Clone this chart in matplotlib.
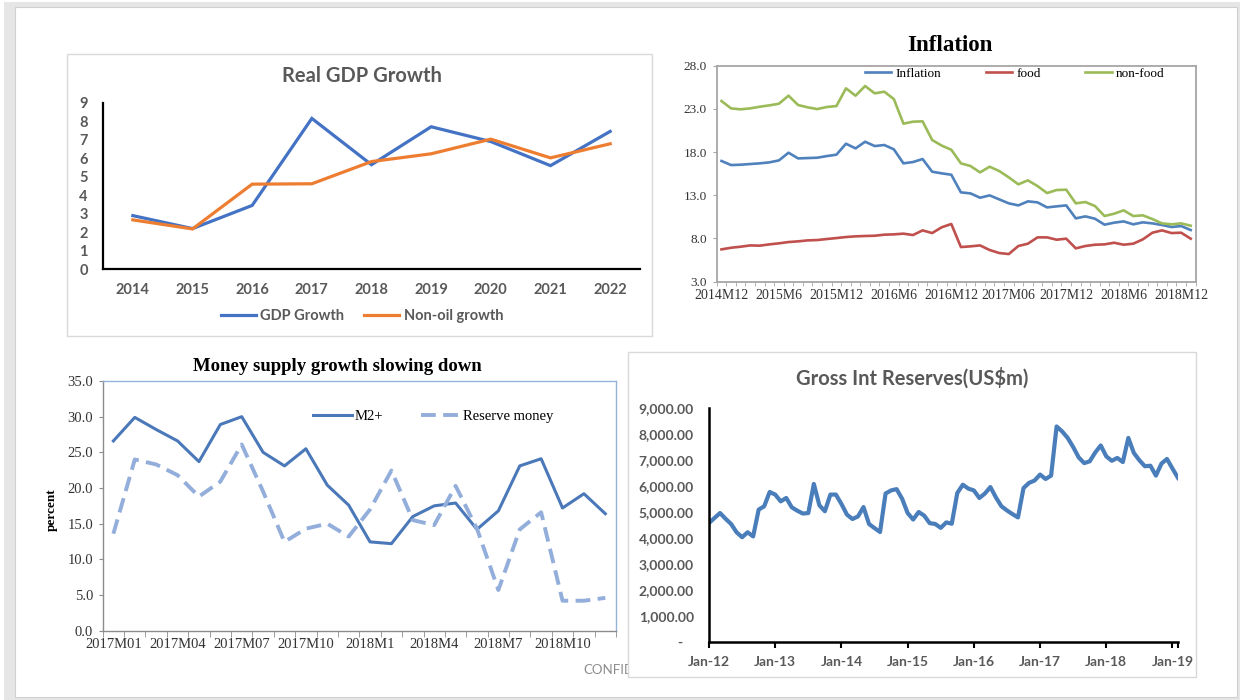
import numpy as np
import matplotlib
matplotlib.use("Agg")
import matplotlib.pyplot as plt
import matplotlib.ticker as mticker
from matplotlib.patches import Rectangle

W, H = 1241, 700

# ---- data ----
gdp_years = ['2014', '2015', '2016', '2017', '2018', '2019', '2020', '2021', '2022']
gdp_growth = [2.9, 2.2, 3.45, 8.15, 5.65, 7.7, 6.9, 5.6, 7.45]
nonoil_growth = [2.67, 2.18, 4.6, 4.62, 5.82, 6.24, 7.03, 6.02, 6.78]

infl_labels = ['2014M12', '2015M6', '2015M12', '2016M6', '2016M12',
               '2017M06', '2017M12', '2018M6', '2018M12']
inflation = [16.97, 16.5, 16.54, 16.62, 16.7, 16.81, 17.04, 17.93, 17.27, 17.31,
             17.35, 17.54, 17.7, 18.97, 18.43, 19.2, 18.7, 18.82, 18.32, 16.7,
             16.85, 17.2, 15.73, 15.54, 15.38, 13.34, 13.22, 12.72, 12.99, 12.53,
             12.07, 11.83, 12.3, 12.18, 11.6, 11.72, 11.83, 10.33, 10.56, 10.29,
             9.6, 9.83, 9.98, 9.64, 9.87, 9.75, 9.56, 9.33, 9.44, 8.98]
food = [6.74, 6.93, 7.05, 7.2, 7.17, 7.32, 7.44, 7.59, 7.67, 7.78,
        7.82, 7.94, 8.05, 8.17, 8.25, 8.29, 8.32, 8.44, 8.48, 8.56,
        8.4, 8.94, 8.63, 9.3, 9.68, 7.01, 7.09, 7.2, 6.67, 6.32,
        6.2, 7.13, 7.4, 8.13, 8.13, 7.86, 7.98, 6.86, 7.13, 7.28,
        7.32, 7.51, 7.28, 7.4, 7.9, 8.67, 8.94, 8.63, 8.67, 7.98]
nonfood = [23.91, 23.06, 22.95, 23.06, 23.25, 23.41, 23.6, 24.53, 23.45, 23.18,
           22.98, 23.22, 23.33, 25.38, 24.53, 25.65, 24.8, 24.99, 24.14, 21.29,
           21.52, 21.56, 19.4, 18.75, 18.27, 16.7, 16.39, 15.65, 16.31, 15.81,
           15.08, 14.27, 14.73, 14.07, 13.26, 13.61, 13.65, 12.07, 12.22, 11.76,
           10.6, 10.87, 11.26, 10.6, 10.68, 10.25, 9.75, 9.64, 9.75, 9.48]

money_labels = ['2017M01', '2017M04', '2017M07', '2017M10',
                '2018M1', '2018M4', '2018M7', '2018M10']
m2_plus = [26.6, 29.9, 28.2, 26.6, 23.7, 28.9, 30.0, 25.0, 23.1, 25.5, 20.4, 17.6,
           12.45, 12.2, 16.0, 17.5, 17.9, 14.2, 16.8, 23.1, 24.1, 17.2, 19.2, 16.4]
reserve_money = [13.6, 24.0, 23.3, 21.8, 18.8, 20.9, 26.1, 19.5, 12.45, 14.3, 15.0, 13.2,
                 17.0, 22.45, 15.5, 14.8, 20.3, 14.3, 5.7, 14.2, 16.6, 4.2, 4.2, 4.6]

reserve_labels = ['Jan-12', 'Jan-13', 'Jan-14', 'Jan-15', 'Jan-16', 'Jan-17', 'Jan-18', 'Jan-19']
gross_reserves = [4577, 4770, 4960, 4740, 4540, 4220, 4030, 4220, 4060, 5090,
                  5220, 5770, 5670, 5410, 5540, 5180, 5050, 4940, 4960, 6080,
                  5260, 5030, 5670, 5670, 5310, 4900, 4730, 4830, 5190, 4540,
                  4380, 4230, 5710, 5830, 5880, 5510, 4960, 4710, 5000, 4860,
                  4570, 4540, 4390, 4600, 4550, 5730, 6050, 5900, 5830, 5540,
                  5710, 5960, 5560, 5220, 5060, 4920, 4790, 5920, 6120, 6210,
                  6440, 6270, 6400, 8290, 8100, 7850, 7500, 7100, 6880, 6950,
                  7290, 7560, 7140, 6970, 7080, 6920, 7850, 7270, 6990, 6760,
                  6780, 6400, 6860, 7040, 6670, 6310]

SANS = 'Lato'
SERIF = 'Liberation Serif'
GREY_TXT = '#595959'

fig = plt.figure(figsize=(W / 100, H / 100), dpi=100)


def add_axes_px(left, top, right, bottom):
    ax = fig.add_axes([left / W, 1 - bottom / H, (right - left) / W, (bottom - top) / H])
    ax.set_facecolor('none')
    return ax


def frame_px(left, top, right, bottom, edge, face='white', lw=1.0, z=-1):
    fig.add_artist(Rectangle((left / W, 1 - bottom / H), (right - left) / W, (bottom - top) / H,
                             transform=fig.transFigure, facecolor=face, edgecolor=edge,
                             linewidth=lw, zorder=z))


def fig_text(x, y, s, **kw):
    fig.text(x / W, 1 - y / H, s, ha=kw.pop('ha', 'center'), va=kw.pop('va', 'center'), **kw)


# screenshot border
frame_px(4, 2, 1240, 700, edge='none', face='#e6e6e6', z=-3)
frame_px(15, 7, 1237, 697, edge='#d0d0d0', face='white', lw=0.8, z=-2)

# ---------- Real GDP Growth ----------
frame_px(67, 53.5, 652, 336, edge='#d9d9d9')
ax1 = add_axes_px(103, 102.7, 640, 269.3)
xg = np.arange(len(gdp_years))
ax1.plot(xg, gdp_growth, color='#4472C4', lw=2.3, label='GDP Growth', solid_joinstyle='miter')
ax1.plot(xg, nonoil_growth, color='#ED7D31', lw=2.3, label='Non-oil growth', solid_joinstyle='miter')
ax1.set_xlim(-0.5, len(gdp_years) - 0.5)
ax1.set_ylim(0, 9)
ax1.set_yticks(range(10))
ax1.set_xticks(xg, gdp_years)
for s in ['top', 'right']:
    ax1.spines[s].set_visible(False)
for s in ['left', 'bottom']:
    ax1.spines[s].set_color('black')
    ax1.spines[s].set_linewidth(1.6)
ax1.tick_params(axis='y', length=0, pad=11)
ax1.tick_params(axis='x', length=0, pad=10)
for lab in ax1.get_xticklabels() + ax1.get_yticklabels():
    lab.set_fontfamily(SANS)
    lab.set_fontweight('bold')
    lab.set_fontsize(10.5)
    lab.set_color(GREY_TXT)
fig_text(362, 76, 'Real GDP Growth', fontsize=14.5, fontweight='bold', color=GREY_TXT, family=SANS)
ax1.legend(loc='center', bbox_to_anchor=(362 / W, 1 - 316 / H), bbox_transform=fig.transFigure,
           ncol=2, frameon=False, handlelength=2.4, handletextpad=0.3, columnspacing=1.4,
           prop={'family': SANS, 'weight': 'bold', 'size': 10.5}, labelcolor=GREY_TXT)

# ---------- Inflation ----------
ax2 = add_axes_px(716.7, 65.7, 1195.5, 281.7)
xi = np.arange(len(inflation))
ax2.plot(xi, inflation, color='#4F81BD', lw=1.9, label='Inflation')
ax2.plot(xi, food, color='#C0504D', lw=1.9, label='food')
ax2.plot(xi, nonfood, color='#9BBB59', lw=1.9, label='non-food')
ax2.set_xlim(-0.5, len(inflation) - 0.5)
ax2.set_ylim(3, 28)
ax2.set_yticks(np.arange(3, 29, 5))
ax2.yaxis.set_major_formatter(mticker.FormatStrFormatter('%.1f'))
ax2.set_xticks(np.arange(0, len(inflation), 6), infl_labels)
ax2.set_xticks(np.arange(-0.5, len(inflation), 1), minor=True)
for s in ax2.spines.values():
    s.set_color('#a6a6a6')
    s.set_linewidth(1.3)
ax2.tick_params(axis='x', which='major', length=0, pad=5)
ax2.tick_params(axis='x', which='minor', length=3, color='#a6a6a6', direction='out')
ax2.tick_params(axis='y', length=3, color='#a6a6a6', pad=4)
for lab in ax2.get_xticklabels():
    lab.set_fontfamily(SERIF)
    lab.set_fontsize(10)
    lab.set_color('#333333')
for lab in ax2.get_yticklabels():
    lab.set_fontfamily(SERIF)
    lab.set_fontsize(9.5)
    lab.set_color('#333333')
fig_text(950, 45.7, 'Inflation', fontsize=16.5, fontweight='bold', family=SERIF)
ax2.legend(loc='center', bbox_to_anchor=(1014.5 / W, 1 - 74 / H), bbox_transform=fig.transFigure,
           ncol=3, frameon=False, handlelength=2.0, handletextpad=0.3, columnspacing=3.4,
           prop={'family': SERIF, 'size': 9.5})

# ---------- Money supply ----------
ax3 = add_axes_px(102.7, 381, 616, 630.7)
xm = np.arange(len(m2_plus))
ax3.plot(xm, m2_plus, color='#4A78B8', lw=2.2, label='M2+')
ax3.plot(xm, reserve_money, color='#93AEDB', lw=2.8, dashes=(3.8, 1.9), label='Reserve money')
ax3.set_xlim(-0.5, len(m2_plus) - 0.5)
ax3.set_ylim(0, 35)
ax3.set_yticks(np.arange(0, 36, 5))
ax3.yaxis.set_major_formatter(mticker.FormatStrFormatter('%.1f'))
ax3.set_xticks(np.arange(0, len(m2_plus), 3), money_labels)
ax3.set_xticks(np.arange(-0.5, len(m2_plus), 1), minor=True)
for s in ['left', 'bottom']:
    ax3.spines[s].set_color('#8c8c8c')
    ax3.spines[s].set_linewidth(1.0)
for s in ['top', 'right']:
    ax3.spines[s].set_color('#95B3D7')
    ax3.spines[s].set_linewidth(1.0)
ax3.tick_params(axis='x', which='major', length=0, pad=5)
ax3.tick_params(axis='x', which='minor', length=4, color='#8c8c8c', direction='out')
ax3.tick_params(axis='y', length=3, color='#8c8c8c', pad=4)
for lab in ax3.get_xticklabels() + ax3.get_yticklabels():
    lab.set_fontfamily(SERIF)
    lab.set_fontsize(10.5)
    lab.set_color('#333333')
fig_text(337, 367, 'Money supply growth slowing down', fontsize=13.5, fontweight='bold', family=SERIF)
fig_text(51.7, 510, 'percent', rotation=90, fontsize=9.5, fontweight='bold', family=SERIF)
ax3.legend(loc='center', bbox_to_anchor=(433 / W, 1 - 416.7 / H), bbox_transform=fig.transFigure,
           ncol=2, frameon=False, handlelength=2.7, handletextpad=0.15, columnspacing=2.6,
           prop={'family': SERIF, 'size': 10.5})
fig_text(583, 670, 'CONFIDENTIAL', ha='left', fontsize=9.5, color='#8c8c8c', family=SANS, zorder=-1.5)

# ---------- Gross Int Reserves ----------
frame_px(628, 352, 1196, 677, edge='#d9d9d9')
ax4 = add_axes_px(709, 408, 1178, 642)
xr = np.arange(len(gross_reserves))
ax4.plot(xr, gross_reserves, color='#4A7EBB', lw=3.0)
ax4.set_xlim(0, len(gross_reserves) - 1)
ax4.set_ylim(0, 9000)
ax4.set_yticks(np.arange(0, 9001, 1000))
ax4.yaxis.set_major_formatter(mticker.FuncFormatter(lambda v, p: '-   ' if v == 0 else f'{v:,.2f}'))
ax4.set_xticks(np.arange(0, len(gross_reserves), 12), reserve_labels)
ax4.set_xticks([len(gross_reserves) - 1], minor=True)
for s in ['top', 'right']:
    ax4.spines[s].set_visible(False)
for s in ['left', 'bottom']:
    ax4.spines[s].set_color('black')
    ax4.spines[s].set_linewidth(1.8)
ax4.tick_params(axis='y', length=0, pad=11)
ax4.tick_params(axis='x', which='both', length=4, width=1.5, color='black', direction='out', pad=6)
for lab in ax4.get_xticklabels() + ax4.get_yticklabels():
    lab.set_fontfamily(SANS)
    lab.set_fontweight('bold')
    lab.set_fontsize(10)
    lab.set_color(GREY_TXT)
fig_text(912, 378, r'Gross Int Reserves(US\$m)', fontsize=14.5, fontweight='bold', color=GREY_TXT, family=SANS)

fig.savefig('out.png', dpi=100)
